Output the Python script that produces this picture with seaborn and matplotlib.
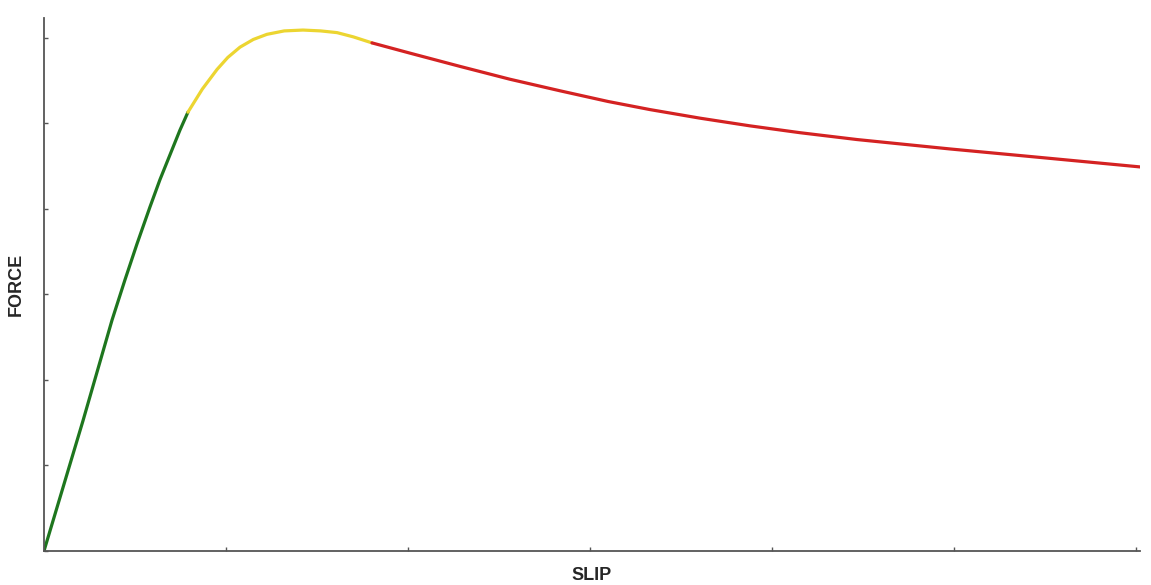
import pandas as pd
import matplotlib.pyplot as plt
import seaborn as sns

# curve, one list per phase (segments share end points)
slip_elastic = [0.0, 0.214, 0.374, 0.445, 0.511, 0.582, 0.637, 0.692, 0.747, 0.791]
force_elastic = [0.0, 1.52, 2.70, 3.17, 3.59, 4.02, 4.34, 4.63, 4.92, 5.13]

slip_peak = [0.791, 0.87, 0.951, 1.01, 1.077, 1.15, 1.225, 1.32, 1.423, 1.52, 1.61, 1.70, 1.802]
force_peak = [5.13, 5.40, 5.63, 5.77, 5.89, 5.98, 6.04, 6.08, 6.09, 6.08, 6.06, 6.01, 5.94]

slip_soft = [1.802, 2.011, 2.286, 2.560, 2.835, 3.099, 3.330, 3.604, 3.879, 4.154,
             4.467, 4.978, 5.527, 6.022]
force_soft = [5.94, 5.82, 5.665, 5.515, 5.38, 5.255, 5.16, 5.06, 4.97, 4.89,
              4.81, 4.70, 4.59, 4.49]

phases = ['elastic', 'peak', 'softening']
phase_colors = ['#1e761e', '#ecd531', '#d42222']

df = pd.concat([
    pd.DataFrame({'slip': slip_elastic, 'force': force_elastic, 'phase': 'elastic'}),
    pd.DataFrame({'slip': slip_peak, 'force': force_peak, 'phase': 'peak'}),
    pd.DataFrame({'slip': slip_soft, 'force': force_soft, 'phase': 'softening'}),
])

sns.set_style('white')
plt.rcParams['font.family'] = ['Liberation Sans', 'DejaVu Sans']

fig = plt.figure(figsize=(11.51, 5.85), dpi=100)
ax = fig.add_axes([0.0382, 0.0581, 0.952, 0.911])

sns.lineplot(data=df, x='slip', y='force', hue='phase', hue_order=phases,
             palette=phase_colors, sort=False, linewidth=2.3, legend=False, ax=ax)

ax.set_xlim(0, 6.02)
ax.set_ylim(0, 6.23)
ax.set_xticks(range(0, 7))
ax.set_yticks(range(0, 7))
ax.set_xticklabels([])
ax.set_yticklabels([])
ax.tick_params(bottom=True, left=True, direction='in', length=3, width=1,
               color='#555555')

sns.despine(ax=ax)
for side in ['left', 'bottom']:
    ax.spines[side].set_color('#555555')
    ax.spines[side].set_linewidth(1.3)

ax.set_xlabel('SLIP', fontsize=13, fontweight='bold', labelpad=8)
ax.set_ylabel('FORCE', fontsize=13, fontweight='bold', labelpad=10)

fig.savefig('out.png', dpi=100)
